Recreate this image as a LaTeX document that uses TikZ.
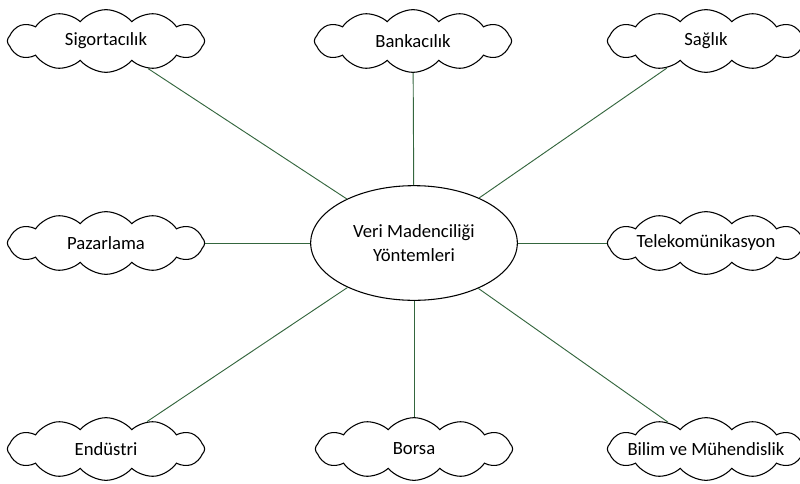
\documentclass[tikz,border=0pt]{standalone}
\usepackage{fontspec}
\setmainfont{Carlito}
\usetikzlibrary{shapes.symbols,shapes.geometric}
\definecolor{linkgreen}{RGB}{52,102,62}
\tikzset{
  topic/.style={cloud, cloud puffs=12, cloud puff arc=100, aspect=3.4,
    draw=black, line width=0.8pt, fill=white,
    minimum width=148pt, minimum height=47pt, inner sep=0pt,
    label={[font=\fontsize{14}{16}\selectfont]center:#1}},
  hub/.style={ellipse, draw=black, line width=0.8pt, fill=white,
    minimum width=155pt, minimum height=86pt, inner sep=0pt, align=center,
    font=\fontsize{14}{18}\selectfont},
  link/.style={draw=linkgreen, line width=0.7pt}
}
\begin{document}
\begin{tikzpicture}[x=0.75pt,y=-0.75pt]
  \useasboundingbox (0,0) rectangle (800,483);
  % central node
  \node[hub] (center) at (414,243) {Veri Madenciliği\\Yöntemleri};
  % application areas: equal clouds, captions set as labels
  \node[topic={Sigortacılık}] (sig) at (106,41) {};
  \node[topic={Bankacılık}] (ban) at (413,41) {};
  \node[topic={Sağlık}] (sag) at (706,41) {};
  \node[topic={Pazarlama}] (paz) at (106,243) {};
  \node[topic={Telekomünikasyon}] (tel) at (706,243) {};
  \node[topic={Endüstri}] (end) at (106,449) {};
  \node[topic={Borsa}] (bor) at (414,449) {};
  \node[topic={Bilim ve Mühendislik}] (bil) at (706,449) {};
  % spokes from the central node to each area
  \foreach \n in {sig,ban,sag,paz,tel,end,bor,bil}{
    \draw[link] (center) -- (\n);
  }
\end{tikzpicture}
\end{document}
